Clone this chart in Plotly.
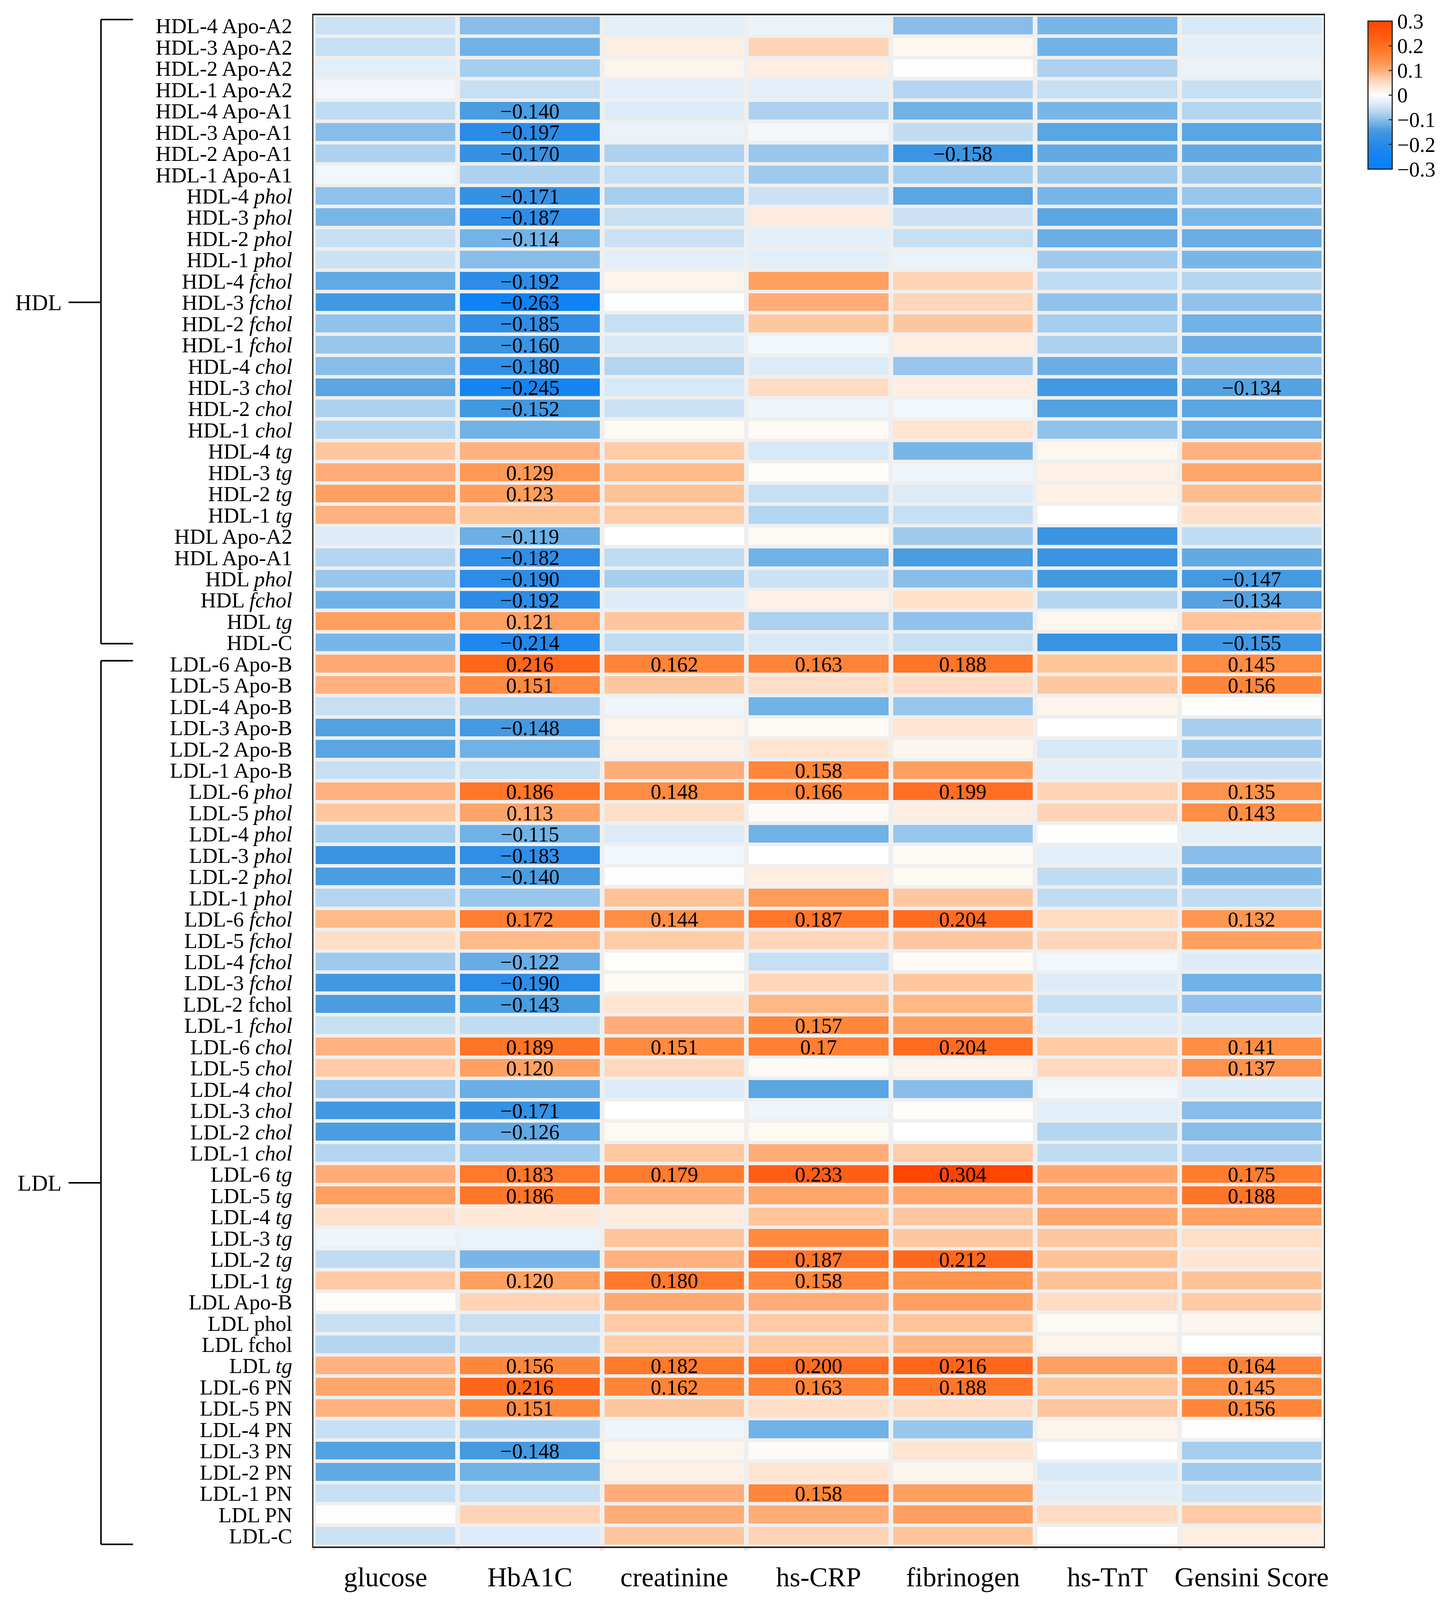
import plotly.graph_objects as go

# ---------------- data ----------------
columns = ["glucose", "HbA1C", "creatinine", "hs-CRP", "fibrinogen", "hs-TnT", "Gensini Score"]

row_labels = [
    "HDL-4 Apo-A2", "HDL-3 Apo-A2", "HDL-2 Apo-A2", "HDL-1 Apo-A2",
    "HDL-4 Apo-A1", "HDL-3 Apo-A1", "HDL-2 Apo-A1", "HDL-1 Apo-A1",
    "HDL-4 <i>phol</i>", "HDL-3 <i>phol</i>", "HDL-2 <i>phol</i>", "HDL-1 <i>phol</i>",
    "HDL-4 <i>fchol</i>", "HDL-3 <i>fchol</i>", "HDL-2 <i>fchol</i>", "HDL-1 <i>fchol</i>",
    "HDL-4 <i>chol</i>", "HDL-3 <i>chol</i>", "HDL-2 <i>chol</i>", "HDL-1 <i>chol</i>",
    "HDL-4 <i>tg</i>", "HDL-3 <i>tg</i>", "HDL-2 <i>tg</i>", "HDL-1 <i>tg</i>",
    "HDL Apo-A2", "HDL Apo-A1", "HDL <i>phol</i>", "HDL <i>fchol</i>", "HDL <i>tg</i>", "HDL-C",
    "LDL-6 Apo-B", "LDL-5 Apo-B", "LDL-4 Apo-B", "LDL-3 Apo-B", "LDL-2 Apo-B", "LDL-1 Apo-B",
    "LDL-6 <i>phol</i>", "LDL-5 <i>phol</i>", "LDL-4 <i>phol</i>", "LDL-3 <i>phol</i>", "LDL-2 <i>phol</i>", "LDL-1 <i>phol</i>",
    "LDL-6 <i>fchol</i>", "LDL-5 <i>fchol</i>", "LDL-4 <i>fchol</i>", "LDL-3 <i>fchol</i>", "LDL-2 fchol", "LDL-1 <i>fchol</i>",
    "LDL-6 <i>chol</i>", "LDL-5 <i>chol</i>", "LDL-4 <i>chol</i>", "LDL-3 <i>chol</i>", "LDL-2 <i>chol</i>", "LDL-1 <i>chol</i>",
    "LDL-6 <i>tg</i>", "LDL-5 <i>tg</i>", "LDL-4 <i>tg</i>", "LDL-3 <i>tg</i>", "LDL-2 <i>tg</i>", "LDL-1 <i>tg</i>",
    "LDL Apo-B", "LDL phol", "LDL fchol", "LDL <i>tg</i>",
    "LDL-6 PN", "LDL-5 PN", "LDL-4 PN", "LDL-3 PN", "LDL-2 PN", "LDL-1 PN", "LDL PN", "LDL-C",
]

glucose = [-0.05, -0.055, -0.03, -0.01, -0.06, -0.10, -0.075, -0.01, -0.095, -0.11, -0.055, -0.05,
           -0.125, -0.15, -0.095, -0.09, -0.10, -0.13, -0.075, -0.07, 0.075, 0.10, 0.12, 0.095,
           -0.035, -0.07, -0.09, -0.115, 0.12, -0.11,
           0.105, 0.095, -0.055, -0.135, -0.13, -0.055, 0.095, 0.075, -0.08, -0.16, -0.14, -0.07,
           0.088, 0.048, -0.085, -0.15, -0.14, -0.055, 0.095, 0.072, -0.083, -0.15, -0.14, -0.07,
           0.10, 0.12, 0.045, -0.015, -0.06, 0.072, 0.002, -0.055, -0.07, 0.095,
           0.11, 0.095, -0.055, -0.135, -0.125, -0.055, 0.002, -0.05]
hba1c = [-0.10, -0.115, -0.08, -0.055, -0.140, -0.197, -0.170, -0.075, -0.171, -0.187, -0.114, -0.10,
         -0.192, -0.263, -0.185, -0.160, -0.180, -0.245, -0.152, -0.115, 0.095, 0.129, 0.123, 0.078,
         -0.119, -0.182, -0.190, -0.192, 0.121, -0.214,
         0.216, 0.151, -0.075, -0.148, -0.115, -0.055, 0.186, 0.113, -0.115, -0.183, -0.140, -0.09,
         0.172, 0.088, -0.122, -0.190, -0.143, -0.06, 0.189, 0.120, -0.12, -0.171, -0.126, -0.085,
         0.183, 0.186, 0.035, -0.02, -0.11, 0.120, 0.06, -0.055, -0.06, 0.156,
         0.216, 0.151, -0.075, -0.148, -0.115, -0.055, 0.06, -0.035]
creatinine = [-0.03, 0.025, 0.015, -0.03, -0.035, -0.02, -0.075, -0.055, -0.08, -0.055, -0.05, -0.03,
              0.015, 0.0, -0.055, -0.04, -0.07, -0.04, -0.05, 0.008, 0.07, 0.088, 0.08, 0.07,
              0.0, -0.06, -0.08, -0.035, 0.075, -0.06,
              0.162, 0.075, -0.015, 0.015, 0.02, 0.10, 0.148, 0.048, -0.035, -0.01, 0.002, 0.08,
              0.144, 0.07, 0.002, 0.006, 0.04, 0.10, 0.151, 0.055, -0.035, 0.0, 0.008, 0.075,
              0.179, 0.093, 0.03, 0.078, 0.095, 0.180, 0.105, 0.072, 0.07, 0.182,
              0.162, 0.075, -0.015, 0.015, 0.02, 0.10, 0.10, 0.075]
hs_crp = [-0.02, 0.06, 0.025, -0.03, -0.075, -0.01, -0.09, -0.085, -0.05, 0.03, -0.03, -0.03,
          0.12, 0.10, 0.075, -0.01, -0.035, 0.05, -0.015, 0.008, -0.04, 0.003, -0.055, -0.07,
          0.008, -0.115, -0.05, 0.02, -0.075, -0.04,
          0.163, 0.048, -0.115, 0.006, 0.04, 0.158, 0.166, 0.006, -0.115, 0.0, 0.025, 0.125,
          0.187, 0.058, -0.055, 0.058, 0.09, 0.157, 0.17, 0.006, -0.13, -0.015, 0.008, 0.10,
          0.233, 0.11, 0.078, 0.15, 0.187, 0.158, 0.10, 0.072, 0.072, 0.200,
          0.163, 0.048, -0.115, 0.006, 0.04, 0.158, 0.10, 0.06]
fibrinogen = [-0.10, 0.01, 0.003, -0.07, -0.115, -0.06, -0.158, -0.08, -0.13, -0.05, -0.055, -0.02,
              0.06, 0.058, 0.075, 0.025, -0.09, 0.025, -0.01, 0.04, -0.11, -0.015, -0.035, -0.055,
              -0.085, -0.14, -0.10, 0.045, -0.095, -0.055,
              0.188, 0.05, -0.09, 0.04, 0.012, 0.12, 0.199, 0.025, -0.09, 0.006, 0.008, 0.075,
              0.204, 0.075, 0.006, 0.075, 0.09, 0.12, 0.204, 0.015, -0.10, 0.002, 0.0, 0.07,
              0.304, 0.11, 0.075, 0.075, 0.212, 0.135, 0.12, 0.078, 0.09, 0.216,
              0.188, 0.05, -0.09, 0.04, 0.012, 0.12, 0.12, 0.078]
hs_tnt = [-0.11, -0.115, -0.075, -0.055, -0.11, -0.13, -0.125, -0.085, -0.11, -0.13, -0.12, -0.085,
          -0.06, -0.095, -0.08, -0.075, -0.12, -0.15, -0.135, -0.095, 0.01, 0.02, 0.02, 0.0,
          -0.16, -0.165, -0.15, -0.07, 0.01, -0.165,
          0.078, 0.075, 0.015, 0.0, -0.04, -0.03, 0.06, 0.06, 0.0, -0.03, -0.06, -0.06,
          0.05, 0.058, -0.01, -0.035, -0.055, -0.035, 0.072, 0.055, -0.01, -0.03, -0.07, -0.06,
          0.11, 0.11, 0.11, 0.075, 0.08, 0.08, 0.05, 0.008, 0.015, 0.12,
          0.078, 0.075, 0.015, 0.0, -0.04, -0.03, 0.05, 0.002]
gensini = [-0.04, -0.03, -0.02, -0.055, -0.07, -0.13, -0.125, -0.085, -0.09, -0.11, -0.12, -0.11,
           -0.07, -0.095, -0.115, -0.12, -0.095, -0.134, -0.13, -0.115, 0.095, 0.11, 0.085, 0.045,
           -0.06, -0.125, -0.147, -0.134, 0.078, -0.155,
           0.145, 0.156, 0.002, -0.08, -0.085, -0.05, 0.135, 0.143, -0.03, -0.10, -0.11, -0.06,
           0.132, 0.12, -0.035, -0.115, -0.095, -0.04, 0.141, 0.137, -0.035, -0.10, -0.10, -0.075,
           0.175, 0.188, 0.12, 0.048, 0.04, 0.08, 0.072, 0.012, 0.0, 0.164,
           0.145, 0.156, 0.002, -0.08, -0.085, -0.05, 0.072, 0.025]

# significant cells (0-based row index -> displayed label, None = formatted value)
glucose_sig = {}
hba1c_sig = {i: None for i in [4, 5, 6, 8, 9, 10, 12, 13, 14, 15, 16, 17, 18, 21, 22, 24, 25, 26, 27, 28, 29,
                               30, 31, 33, 36, 37, 38, 39, 40, 42, 44, 45, 46, 48, 49, 51, 52, 54, 55, 59,
                               63, 64, 65, 67]}
creatinine_sig = {i: None for i in [30, 36, 42, 48, 54, 59, 63, 64]}
hs_crp_sig = {i: None for i in [30, 35, 36, 42, 47, 54, 58, 59, 63, 64, 69]}
hs_crp_sig[48] = "0.17"
fibrinogen_sig = {i: None for i in [6, 30, 36, 42, 48, 54, 58, 63, 64]}
hs_tnt_sig = {}
gensini_sig = {i: None for i in [17, 26, 27, 29, 30, 31, 36, 37, 42, 48, 49, 54, 55, 63, 64, 65]}

# ---------------- build ----------------
series = [glucose, hba1c, creatinine, hs_crp, fibrinogen, hs_tnt, gensini]
sigs = [glucose_sig, hba1c_sig, creatinine_sig, hs_crp_sig, fibrinogen_sig, hs_tnt_sig, gensini_sig]
n = len(row_labels)

z = [[series[c][r] for c in range(len(columns))] for r in range(n)]


def fmt(v):
    return f"{v:.3f}".replace("-", "\u2212")


text = []
for r in range(n):
    row = []
    for c in range(len(columns)):
        if r in sigs[c]:
            lab = sigs[c][r]
            row.append(lab if lab is not None else fmt(series[c][r]))
        else:
            row.append("")
    text.append(row)

stops = [(-0.3, '#0A7FF8'), (-0.26, '#0F82F5'), (-0.22, '#1E86EE'), (-0.19, '#2D8CE8'),
         (-0.16, '#3A94E2'), (-0.14, '#4A9DE0'), (-0.12, '#6AAEE5'), (-0.10, '#88BDEA'),
         (-0.09, '#98C6EC'), (-0.07, '#B4D5F0'), (-0.05, '#CCE2F4'), (-0.03, '#E2EEF8'),
         (-0.01, '#F2F7FC'), (0.0, '#FFFFFF'), (0.01, '#FDF7F0'), (0.03, '#FEEBDD'),
         (0.05, '#FFDCC4'), (0.07, '#FFCCA8'), (0.09, '#FFB885'), (0.10, '#FFAC78'),
         (0.12, '#FFA060'), (0.14, '#FF9048'), (0.16, '#FF8538'), (0.18, '#FF7A2C'),
         (0.20, '#FF6E22'), (0.22, '#FF6418'), (0.30, '#FF4500')]
colorscale = [[(v + 0.3) / 0.6, col] for v, col in stops]

FONT = "Liberation Serif, Times New Roman, serif"

# The browser viewport is 3716 x 4096 (measured), so the reference layout
# (3716 x 5406) is mapped onto the visible area: x unchanged, y scaled.
OFF = 8                       # default body margin of the html page
VIEW_W, VIEW_H = 3716, 4096
REF_H = 5406
SY = VIEW_H / REF_H
W, H = VIEW_W - 2 * OFF, VIEW_H - 2 * OFF


def vy(y_ref):                # reference page y -> figure y
    return y_ref * SY - OFF


PL, PR = 802, 3390            # plot area, reference page x
PT, PB = 52, 5250             # plot area, reference page y
ml = PL - OFF
mr = W - (PR - OFF)
mt = round(vy(PT))
mb = round(H - vy(PB))
pw = PR - PL
ph = H - mt - mb

fig = go.Figure(go.Heatmap(
    z=z, x=columns, y=row_labels,
    text=text, texttemplate="%{text}",
    textfont=dict(family=FONT, size=54, color="black"),
    colorscale=colorscale, zmin=-0.3, zmax=0.3,
    xgap=12, ygap=9,
    colorbar=dict(
        x=(3493 - PL) / pw, xanchor="left",
        y=(H - mb - vy(58)) / ph, yanchor="top",
        len=round(527 * SY), lenmode="pixels", thickness=62, thicknessmode="pixels",
        outlinewidth=3, outlinecolor="#222",
        tickvals=[-0.3, -0.2, -0.1, 0, 0.1, 0.2, 0.3],
        ticktext=["\u22120.3", "\u22120.2", "\u22120.1", "0", "0.1", "0.2", "0.3"],
        ticks="inside", ticklen=10, tickwidth=3, tickcolor="#333",
        tickfont=dict(family=FONT, size=54, color="black"),
    ),
))

fig.update_layout(
    width=W, height=H,
    margin=dict(l=ml, r=mr, t=mt, b=mb, pad=0),
    paper_bgcolor="white", plot_bgcolor="#EFEFEF",
    font=dict(family=FONT, color="black"),
    showlegend=False,
)
fig.update_xaxes(
    showline=True, mirror=True, linecolor="#222", linewidth=4,
    ticks="outside", tickson="boundaries", ticklen=7, tickwidth=12, tickcolor="#EBEBEB",
    tickangle=0, ticklabelstandoff=14, tickfont=dict(family=FONT, size=70, color="black"),
    showgrid=False, zeroline=False,
)
fig.update_yaxes(
    autorange="reversed", showline=True, mirror=True, linecolor="#222", linewidth=3,
    tickmode="linear", tick0=0, dtick=1,
    ticks="", ticklabelstandoff=40, tickfont=dict(family=FONT, size=55, color="black"),
    showgrid=False, zeroline=False,
)


def px(xp):
    return (xp - PL) / pw


def py(t):
    return 1 - t / n


groups = [("HDL", 0.2, 29.55, 13.5), ("LDL", 30.35, 71.9, 54.9)]
xv, xh, xg = px(258), px(340), px(175)
line = dict(color="black", width=4)
for name, t0, t1, tl in groups:
    fig.add_shape(type="line", xref="paper", yref="paper", x0=xv, x1=xv, y0=py(t0), y1=py(t1), line=line)
    fig.add_shape(type="line", xref="paper", yref="paper", x0=xv, x1=xh, y0=py(t0), y1=py(t0), line=line)
    fig.add_shape(type="line", xref="paper", yref="paper", x0=xv, x1=xh, y0=py(t1), y1=py(t1), line=line)
    fig.add_shape(type="line", xref="paper", yref="paper", x0=xg, x1=xv, y0=py(tl), y1=py(tl), line=line)
    fig.add_annotation(text=name, xref="paper", yref="paper", x=px(160), y=py(tl),
                       xanchor="right", yanchor="middle", showarrow=False,
                       font=dict(family=FONT, size=58, color="black"))

fig.write_html("out.html")
